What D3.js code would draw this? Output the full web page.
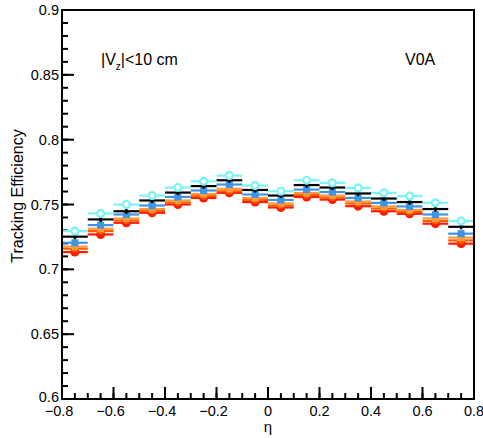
<!DOCTYPE html>
<html>
<head>
<meta charset="utf-8">
<script src="https://cdn.jsdelivr.net/npm/d3@7"></script>
<style>
  html, body { margin: 0; padding: 0; background: #fff; }
  svg { display: block; font-family: "Liberation Sans", Arial, Helvetica, sans-serif; }
</style>
</head>
<body>
<div id="chart"></div>
<script>
// ---- data ----
const etaCenters = [-0.75, -0.65, -0.55, -0.45, -0.35, -0.25, -0.15, -0.05, 0.05, 0.15, 0.25, 0.35, 0.45, 0.55, 0.65, 0.75];
const binHalfWidth = 0.05;
const cyanVals     = [0.7295, 0.7431, 0.7500, 0.7569, 0.7631, 0.7679, 0.7723, 0.7646, 0.7602, 0.7687, 0.7667, 0.7628, 0.7590, 0.7564, 0.7513, 0.7372];
const blackVals    = [0.7252, 0.7385, 0.7448, 0.7531, 0.7592, 0.7642, 0.7687, 0.7612, 0.7569, 0.7650, 0.7631, 0.7585, 0.7546, 0.7519, 0.7465, 0.7328];
const blueVals     = [0.7205, 0.7341, 0.7423, 0.7492, 0.7558, 0.7608, 0.7654, 0.7577, 0.7535, 0.7615, 0.7596, 0.7550, 0.7512, 0.7485, 0.7423, 0.7275];
const orangeVals   = [0.7175, 0.7313, 0.7392, 0.7465, 0.7531, 0.7581, 0.7621, 0.7550, 0.7508, 0.7588, 0.7569, 0.7523, 0.7485, 0.7458, 0.7392, 0.7245];
const orangeRedVals= [0.7159, 0.7295, 0.7377, 0.7450, 0.7515, 0.7565, 0.7602, 0.7535, 0.7492, 0.7573, 0.7554, 0.7508, 0.7469, 0.7442, 0.7373, 0.7223];
const redVals      = [0.7133, 0.7269, 0.7359, 0.7436, 0.7500, 0.7550, 0.7590, 0.7519, 0.7477, 0.7558, 0.7538, 0.7487, 0.7448, 0.7428, 0.7352, 0.7198];
const xTicks = [-0.8, -0.6, -0.4, -0.2, 0, 0.2, 0.4, 0.6, 0.8];
const yTicks = [0.6, 0.65, 0.7, 0.75, 0.8, 0.85, 0.9];
const yTickLabels = ["0.6", "0.65", "0.7", "0.75", "0.8", "0.85", "0.9"];
const xTickLabels = ["\u22120.8", "\u22120.6", "\u22120.4", "\u22120.2", "0", "0.2", "0.4", "0.6", "0.8"];

// ---- layout ----
const W = 483, H = 438;
const L = 62, R = 474, T = 10, B = 399;

const svg = d3.select("#chart").append("svg").attr("width", W).attr("height", H);

const x = d3.scaleLinear().domain([-0.8, 0.8]).range([L, R]);
const y = d3.scaleLinear().domain([0.6, 0.9]).range([B, T]);

const xMinor = d3.range(-0.8, 0.8001, 0.05).map(v => +v.toFixed(2));
const yMinor = d3.range(0.6, 0.9001, 0.01).map(v => +v.toFixed(2));

const axisG = svg.append("g");
axisG.selectAll(".xmin").data(xMinor).enter().append("line")
  .attr("x1", d => x(d)).attr("x2", d => x(d))
  .attr("y1", B).attr("y2", B - 6)
  .attr("stroke", "#000").attr("stroke-width", 2);
axisG.selectAll(".xmaj").data(xTicks).enter().append("line")
  .attr("x1", d => x(d)).attr("x2", d => x(d))
  .attr("y1", B).attr("y2", B - 12)
  .attr("stroke", "#000").attr("stroke-width", 2);
axisG.selectAll(".ymin").data(yMinor).enter().append("line")
  .attr("x1", L).attr("x2", L + 6)
  .attr("y1", d => y(d)).attr("y2", d => y(d))
  .attr("stroke", "#000").attr("stroke-width", 2);
axisG.selectAll(".ymaj").data(yTicks).enter().append("line")
  .attr("x1", L).attr("x2", L + 12)
  .attr("y1", d => y(d)).attr("y2", d => y(d))
  .attr("stroke", "#000").attr("stroke-width", 2);

// tick labels
axisG.selectAll(".xl").data(xTicks).enter().append("text")
  .attr("x", (d, i) => x(d) - (xTickLabels[i].startsWith("\u2212") ? 3 : 0))
  .attr("y", 416)
  .attr("text-anchor", "middle")
  .attr("font-size", 14.5)
  .text((d, i) => xTickLabels[i]);
axisG.selectAll(".yl").data(yTicks).enter().append("text")
  .attr("x", 59)
  .attr("y", d => y(d) + (d === 0.6 ? 3 : 5))
  .attr("text-anchor", "end")
  .attr("font-size", 14.5)
  .text((d, i) => yTickLabels[i]);

// axis titles
svg.append("text")
  .attr("transform", `translate(23,196) rotate(-90)`)
  .attr("text-anchor", "middle")
  .attr("font-size", 16)
  .text("Tracking Efficiency");
svg.append("text")
  .attr("x", 268).attr("y", 432)
  .attr("text-anchor", "middle")
  .attr("font-size", 15)
  .text("\u03b7");

// annotations
const ann = svg.append("text").attr("x", 101).attr("y", 64.5).attr("font-size", 16);
ann.append("tspan").text("|V");
ann.append("tspan").attr("font-size", 10).attr("dy", 5).text("z");
ann.append("tspan").attr("dy", -5).text("|<10 cm");
svg.append("text").attr("x", 405).attr("y", 64.5).attr("font-size", 16).text("V0A");

// ---- series ----
const series = [
  { vals: redVals,       color: "#ff1a00", marker: "circle", fill: true, r: 4.5 },
  { vals: orangeRedVals, color: "#ff5c00", marker: "circle", fill: true, r: 3.5 },
  { vals: orangeVals,    color: "#ff9a3c", marker: "square", fill: true, r: 3.5 },
  { vals: blueVals,      color: "#3d95e6", marker: "square", fill: true, r: 3.5 },
  { vals: blackVals,     color: "#000000", marker: "circle", fill: true, r: 2 },
  { vals: cyanVals,      color: "#78f4f4", marker: "circle", fill: false, r: 4.5 }
];

const plotG = svg.append("g");
series.forEach(s => {
  const g = plotG.append("g");
  const pts = etaCenters.map((c, i) => ({ c, v: s.vals[i] }));
  g.selectAll("line.h").data(pts).enter().append("line")
    .attr("x1", d => x(d.c - binHalfWidth)).attr("x2", d => x(d.c + binHalfWidth))
    .attr("y1", d => y(d.v)).attr("y2", d => y(d.v))
    .attr("stroke", s.color).attr("stroke-width", 2.2);
  g.selectAll("line.v").data(pts).enter().append("line")
    .attr("x1", d => x(d.c)).attr("x2", d => x(d.c))
    .attr("y1", d => y(d.v + 0.002)).attr("y2", d => y(d.v - 0.002))
    .attr("stroke", s.color).attr("stroke-width", 2);
  if (s.marker === "circle") {
    g.selectAll("circle").data(pts).enter().append("circle")
      .attr("cx", d => x(d.c)).attr("cy", d => y(d.v)).attr("r", s.fill ? s.r : s.r - 1)
      .attr("fill", s.fill ? s.color : "#fff")
      .attr("stroke", s.color).attr("stroke-width", s.fill ? 0 : 2.2);
  } else {
    g.selectAll("rect").data(pts).enter().append("rect")
      .attr("x", d => x(d.c) - s.r).attr("y", d => y(d.v) - s.r)
      .attr("width", 2 * s.r).attr("height", 2 * s.r)
      .attr("fill", s.color);
  }
});

// frame
svg.append("rect")
  .attr("x", L).attr("y", T).attr("width", R - L).attr("height", B - T)
  .attr("fill", "none").attr("stroke", "#000").attr("stroke-width", 2);
</script>
</body>
</html>
